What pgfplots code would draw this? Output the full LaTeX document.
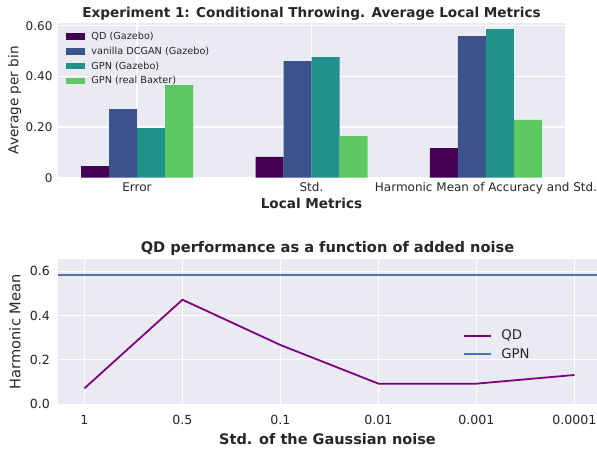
\documentclass[border=0pt]{standalone}
\usepackage{fontspec}
\setmainfont{DejaVu Sans}
\usepackage{pgfplots}
\pgfplotsset{compat=1.18}
\definecolor{sbbg}{HTML}{EAEAF2}
\definecolor{txt}{HTML}{262626}
\definecolor{v1}{HTML}{440154}
\definecolor{v2}{HTML}{3B528B}
\definecolor{v3}{HTML}{21918C}
\definecolor{v4}{HTML}{5EC962}
\definecolor{qdcol}{HTML}{800080}
\definecolor{gpncol}{HTML}{4C72B0}
\pgfplotsset{sb/.style={
  scale only axis,
  axis background/.style={fill=sbbg},
  axis line style={draw=none},
  grid=major, major grid style={white, line width=1.1pt},
  major tick length=0pt,
  every axis title shift=0pt,
  tick label style={font=\fontsize{12}{14}\selectfont, text=txt},
  title style={text=txt},
}}
\begin{document}
\begin{tikzpicture}
\useasboundingbox (0pt,0pt) rectangle (597pt,448pt);
% ---------- top: bar chart ----------
\begin{axis}[sb,
  at={(58pt,270.3pt)}, anchor=south west, width=507pt, height=155pt,
  ybar=0pt, bar width=28pt,
  xmin=-0.453, xmax=2.453, ymin=0, ymax=0.612,
  xtick={0,1,2}, xticklabels={Error, Std., Harmonic Mean of Accuracy and Std.},
  ytick={0,0.2,0.4,0.6}, yticklabels={0,0.20,0.40,0.60},
  yticklabel style={xshift=-2pt},
  xticklabel style={yshift=-1.5pt},
  title={\fontsize{13.6}{15}\selectfont\bfseries Experiment 1: Conditional Throwing. Average Local Metrics},
  title style={at={(rel axis cs:0.5,1)}, anchor=base, yshift=5.7pt},
  xlabel={\fontsize{13.6}{15}\selectfont\bfseries Local Metrics},
  xlabel style={at={(rel axis cs:0.5,0)}, anchor=base, yshift=-30.6pt, text=txt},
  ylabel={\fontsize{13.6}{15}\selectfont Average per bin},
  ylabel style={at={(rel axis cs:0,0.5)}, anchor=south, yshift=36.6pt, inner sep=0pt, text=txt},
  legend style={at={(rel axis cs:0,1)}, anchor=north west, xshift=4.7pt, yshift=-5pt,
    draw=none, fill=none, font=\fontsize{9.7}{11}\selectfont, text=txt, row sep=2pt,
    /tikz/every odd column/.append style={column sep=4pt}},
  legend cell align=left,
  legend image code/.code={\fill[#1] (0pt,-3.4pt) rectangle (19.5pt,3.4pt);},
]
\addplot[fill=v1, draw=none] coordinates {(0,0.046) (1,0.082) (2,0.117)};
\addplot[fill=v2, draw=none] coordinates {(0,0.271) (1,0.460) (2,0.559)};
\addplot[fill=v3, draw=none] coordinates {(0,0.196) (1,0.476) (2,0.587)};
\addplot[fill=v4, draw=none] coordinates {(0,0.366) (1,0.164) (2,0.228)};
\legend{QD (Gazebo), vanilla DCGAN (Gazebo), GPN (Gazebo), GPN (real Baxter)}
\end{axis}
% ---------- bottom: line chart ----------
\begin{axis}[sb,
  at={(58pt,43.7pt)}, anchor=south west, width=539pt, height=145pt,
  xmin=-0.27, xmax=5.23, ymin=0, ymax=0.653,
  xtick={0,1,2,3,4,5}, xticklabels={1,0.5,0.1,0.01,0.001,0.0001},
  ytick={0,0.2,0.4,0.6}, yticklabels={0.0,0.2,0.4,0.6},
  tick label style={font=\fontsize{12.6}{14}\selectfont},
  yticklabel style={xshift=-4.5pt},
  xticklabel style={yshift=-7pt},
  title={\fontsize{14.6}{16}\selectfont\bfseries QD performance as a function of added noise},
  title style={at={(rel axis cs:0.5,1)}, anchor=base, yshift=7.3pt},
  xlabel={\fontsize{14.5}{16}\selectfont\bfseries Std. of the Gaussian noise},
  xlabel style={at={(rel axis cs:0.5,0)}, anchor=base, yshift=-40pt, text=txt},
  ylabel={\fontsize{14.6}{16}\selectfont Harmonic Mean},
  ylabel style={at={(rel axis cs:0,0.5)}, anchor=south, yshift=37.3pt, inner sep=0pt, text=txt},
  legend style={at={(rel axis cs:0.745,0.41)}, anchor=west,
    draw=none, fill=none, font=\fontsize{13.3}{15}\selectfont, text=txt, row sep=3pt,
    /tikz/every odd column/.append style={column sep=7pt}},
  legend cell align=left,
  legend image code/.code={\draw[#1] (0pt,0pt) -- (27.6pt,0pt);},
]
\addplot[draw=qdcol, line width=1.8pt] coordinates {(0,0.072) (1,0.471) (2,0.267) (3,0.093) (4,0.093) (5,0.132)};
\addplot[draw=gpncol, line width=2pt] coordinates {(-0.27,0.584) (5.23,0.584)};
\legend{QD, GPN}
\end{axis}
\end{tikzpicture}
\end{document}
